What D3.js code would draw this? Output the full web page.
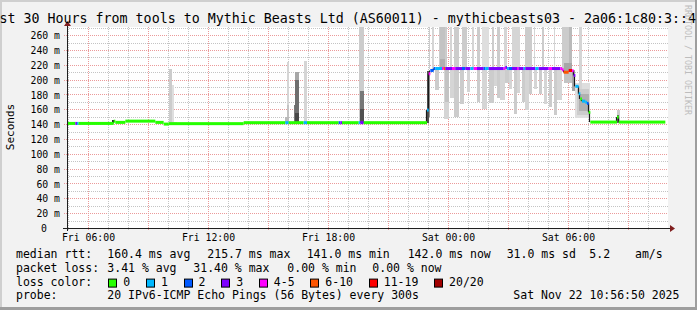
<!DOCTYPE html>
<html>
<head>
<meta charset="utf-8">
<script src="https://cdn.jsdelivr.net/npm/d3@7"></script>
<style>
  body { margin: 0; background: #f2f2f2; }
  text { font-family: "DejaVu Sans Mono", monospace; }
</style>
</head>
<body>
<svg id="chart"></svg>
<script>
// rrd samples every 5 minutes, 30 hours shown
const startTime = new Date(2025, 10, 21, 4, 57, 0);
const stepMinutes = 5;
const sampleCount = 359;

// median rtt runs: [first sample, median (ms), lost pings of 20]
const medianRuns = [
  [0, 141, 0], [5, 141, 3], [6, 141, 1], [7, 141, 0],
  [28, 144, 0], [29, 142.4, 0], [35, 144.1, 0], [53, 142.4, 0],
  [58, 140.1, 0], [61, 140.7, 0], [106, 142, 0],
  [131, 142, 1], [133, 142, 0], [142, 142, 1], [144, 142, 0],
  [163, 142, 2], [164, 142, 3], [165, 142, 0],
  [175, 142, 1], [176, 142, 3], [178, 142, 0],
  [216, 159, 1], [217, 208, 4], [218, 212.4, 2],
  [220, 215, 2], [221, 215, 1], [225, 215, 4], [226, 215, 7], [227, 215, 3],
  [231, 215, 4], [233, 215, 3], [237, 215, 2], [239, 215, 3], [242, 215, 1],
  [244, 215, 4], [246, 215, 3], [250, 215, 2], [251, 215, 1],
  [253, 215, 3], [262, 215, 4], [263, 216.5, 3], [264, 215, 1], [265, 215, 2],
  [267, 215, 3], [270, 215, 4], [271, 215, 3], [274, 215, 1],
  [275, 215, 3], [281, 215, 1], [283, 215, 3], [289, 215, 4], [291, 215, 3],
  [296, 215, 4], [297, 213.3, 4], [298, 210, 7], [301, 212.4, 12], [303, 212, 4],
  [304, 205.7, 3], [305, 191, 1], [307, 181, 1], [308, 174, 0], [309, 171, 1],
  [311, 169.5, 1], [312, 168, 2], [313, 156, 0], [314, 142.8, 0],
  [330, 149.5, 0], [331, 142.8, 0]
];

// smoke (spread of the pings): [first sample, end sample, low (ms), high (ms), pings in band]
const smoke = [
  [27, 28, 142, 145, 20],
  [61, 63, 141, 214, 3], [63, 64, 141, 193, 1], [61, 66, 140, 143, 2],
  [131, 133, 141, 150, 5], [132, 133, 141, 224, 2], [132, 133, 141, 166, 4],
  [136, 137, 141, 166, 12], [137, 139, 141, 211, 7], [137, 139, 141, 200, 13], [137, 139, 141, 155, 17],
  [142, 144, 141, 225, 2],
  [175, 178, 141, 290, 3], [176, 178, 141, 185, 12], [176, 178, 141, 160, 16],
  [216, 217, 142, 212, 16], [217, 218, 150, 212, 9],
  [217, 218, 215, 290, 3], [219, 220, 215, 290, 2], [223, 228, 215, 290, 3], [224, 227, 215, 290, 4],
  [224, 227, 215, 228, 6], [230, 231, 215, 290, 2], [232, 235, 215, 290, 3], [237, 240, 215, 290, 3],
  [243, 244, 215, 290, 2], [246, 248, 215, 290, 3], [249, 253, 215, 290, 1], [255, 256, 215, 290, 3],
  [258, 260, 215, 290, 3], [262, 264, 215, 290, 2], [267, 272, 215, 290, 2], [275, 279, 215, 290, 3],
  [280, 281, 215, 290, 2], [285, 286, 215, 290, 3], [292, 293, 215, 290, 2], [297, 303, 215, 290, 3],
  [301, 303, 215, 290, 5], [298, 303, 211, 222, 7], [307, 309, 185, 290, 2],
  [221, 223, 186, 215, 3], [226, 229, 147, 215, 2], [227, 229, 170, 215, 4], [230, 232, 175, 215, 2],
  [232, 235, 150, 215, 3], [236, 238, 167, 215, 3], [240, 242, 183, 215, 2], [246, 248, 170, 215, 3],
  [249, 252, 160, 215, 2], [253, 256, 168, 215, 3], [256, 258, 192, 215, 2], [258, 260, 175, 215, 3],
  [260, 263, 172, 215, 2], [263, 265, 195, 215, 3], [265, 267, 188, 215, 2], [268, 270, 154, 215, 3],
  [270, 272, 182, 215, 2], [273, 275, 170, 215, 3], [275, 277, 159, 215, 2], [277, 279, 180, 215, 3],
  [280, 282, 188, 215, 2], [283, 285, 181, 215, 3], [286, 288, 167, 215, 2], [289, 291, 163, 215, 3],
  [292, 294, 152, 215, 3], [294, 297, 172, 215, 2], [298, 304, 195, 213, 4],
  [303, 305, 185, 213, 7], [305, 314, 148, 195, 1], [306, 313, 152, 188, 3], [307, 313, 158, 180, 6],
  [330, 332, 142, 159, 3], [330, 331, 142, 153, 14]
];

const lossLabels = ['0', '1', '2', '3', '4-5', '6-10', '11-19', '20/20'];
const lossThresholds = [1, 2, 3, 4, 6, 11, 20];
const lossColors = ['#26ff00', '#00b8ff', '#0059ff', '#7e00ff', '#ff00ff', '#ff5500', '#ff0000', '#a10000'];

const titleText = 'Last 30 Hours from tools to Mythic Beasts Ltd (AS60011) - mythicbeasts03 - 2a06:1c80:3::4';
const rttStats = ['160.4 ms avg', '215.7 ms max', '141.0 ms min', '142.0 ms now', '31.0 ms sd', '5.2', 'am/s'];
const lossStats = ['3.41 % avg', '31.40 % max', '0.00 % min', '0.00 % now'];
const probeText = '20 IPv6-ICMP Echo Pings (56 Bytes) every 300s';
const stampText = 'Sat Nov 22 10:56:50 2025';
const yTicks = d3.range(0, 261, 20);

const W = 697, H = 310;
const plot = { left: 67, right: 668, top: 27, bottom: 228 };

const svg = d3.select('#chart').attr('width', W).attr('height', H);

// frame
svg.append('rect').attr('width', W).attr('height', H).attr('fill', '#f2f2f2');
svg.append('rect').attr('width', W).attr('height', 2).attr('fill', '#cfcfcf');
svg.append('rect').attr('width', 2).attr('height', H).attr('fill', '#cfcfcf');
svg.append('rect').attr('y', H - 3).attr('width', W).attr('height', 3).attr('fill', '#9e9e9e');
svg.append('rect').attr('x', W - 2).attr('width', 2).attr('height', H).attr('fill', '#9e9e9e');

svg.append('rect')
    .attr('x', plot.left).attr('y', plot.top)
    .attr('width', plot.right - plot.left).attr('height', plot.bottom - plot.top)
    .attr('fill', '#ffffff');

const x = d3.scaleTime()
    .domain([startTime, d3.timeHour.offset(startTime, 30)])
    .range([67, 667]);
const y = d3.scaleLinear().domain([0, 271]).range([228, 27]);
const tAt = i => d3.timeMinute.offset(startTime, i * stepMinutes);
const lossClass = d3.scaleThreshold().domain(lossThresholds).range(d3.range(8));
const grey = d3.scaleLinear().domain([1, 10, 20]).range(['#dedede', '#8c8c8c', '#2a2a2a']);

// grid
const grid = svg.append('g').attr('stroke-dasharray', '1,1').attr('stroke-width', 1);
d3.range(10, 271, 10).forEach(v => {
  const yy = Math.round(y(v)) + 0.5;
  grid.append('line')
      .attr('x1', v % 20 === 0 ? plot.left - 3 : plot.left).attr('x2', plot.right)
      .attr('y1', yy).attr('y2', yy)
      .attr('stroke', v % 20 === 0 ? '#eb9a9a' : '#c4c4c4');
});
d3.timeHour.every(1).range(startTime, d3.timeHour.offset(startTime, 30)).forEach(t => {
  const xx = Math.round(x(t)) + 0.5;
  const major = t.getHours() % 3 === 0;
  grid.append('line')
      .attr('x1', xx).attr('x2', xx)
      .attr('y1', plot.top).attr('y2', plot.bottom + (major ? 3 : 2))
      .attr('stroke', major ? '#eb9a9a' : '#c4c4c4');
});

// smoke
svg.append('clipPath').attr('id', 'clip').append('rect')
    .attr('x', plot.left).attr('y', plot.top)
    .attr('width', plot.right - plot.left).attr('height', plot.bottom - plot.top);
const chart = svg.append('g').attr('clip-path', 'url(#clip)');

chart.append('g').attr('shape-rendering', 'crispEdges')
    .selectAll('rect')
    .data(smoke.slice().sort((a, b) => a[4] - b[4]))
    .join('rect')
    .attr('x', d => x(tAt(d[0])))
    .attr('width', d => x(tAt(d[1])) - x(tAt(d[0])))
    .attr('y', d => y(d[3]))
    .attr('height', d => y(d[2]) - y(d[3]))
    .attr('fill', d => grey(d[4]));

// steps between very different medians show as a dark stroke
const steps = [];
medianRuns.forEach((d, k) => {
  if (k > 0 && Math.abs(d[1] - medianRuns[k - 1][1]) > 2.5) steps.push([d[0], medianRuns[k - 1][1], d[1]]);
});
chart.append('g')
    .selectAll('line')
    .data(steps)
    .join('line')
    .attr('x1', d => Math.round(x(tAt(d[0]))) - 0.5)
    .attr('x2', d => Math.round(x(tAt(d[0]))) - 0.5)
    .attr('y1', d => y(d[1]))
    .attr('y2', d => y(d[2]))
    .attr('stroke', '#1a1a1a').attr('stroke-width', 1.2);

// median coloured by loss
chart.append('g')
    .selectAll('rect')
    .data(medianRuns)
    .join('rect')
    .attr('x', d => x(tAt(d[0])))
    .attr('width', (d, k) => x(tAt(k + 1 < medianRuns.length ? medianRuns[k + 1][0] : sampleCount)) - x(tAt(d[0])))
    .attr('y', d => y(d[1]) - 1.5)
    .attr('height', 3)
    .attr('fill', d => lossColors[lossClass(d[2])]);

// axes
const yAxis = svg.append('g')
    .attr('transform', `translate(${plot.left},0)`)
    .call(d3.axisLeft(y).tickValues(yTicks).tickSize(0).tickPadding(7)
        .tickFormat(d => d === 0 ? '0' : d + ' m'));
yAxis.select('.domain').remove();
yAxis.selectAll('text')
    .attr('font-family', '"DejaVu Sans Mono", monospace')
    .attr('font-size', '9.8px').attr('fill', '#000')
    .attr('dy', '0.36em')
    .attr('x', d => d === 0 ? -20 : -7);

const xAxis = svg.append('g')
    .attr('transform', `translate(0,${plot.bottom})`)
    .call(d3.axisBottom(x).ticks(d3.timeHour.every(6)).tickSize(0).tickPadding(6)
        .tickFormat(d3.timeFormat('%a %H:%M')));
xAxis.select('.domain').remove();
xAxis.selectAll('text')
    .attr('font-family', '"DejaVu Sans Mono", monospace')
    .attr('font-size', '9.8px').attr('fill', '#000')
    .attr('dy', '0.72em');

svg.append('line').attr('x1', 63).attr('x2', 671).attr('y1', 228.5).attr('y2', 228.5)
    .attr('stroke', '#1f1f1f');
svg.append('line').attr('x1', 67.5).attr('x2', 67.5).attr('y1', 231).attr('y2', 24)
    .attr('stroke', '#1f1f1f');
svg.append('path').attr('d', 'M670,225L675,228.5L670,232Z').attr('fill', '#801f1f');
svg.append('path').attr('d', 'M64,26L67.5,21L71,26Z').attr('fill', '#801f1f');

// title, axis label, watermark
svg.append('text').attr('x', 696).attr('y', 23).attr('text-anchor', 'end')
    .attr('font-size', '13.3px').text(titleText);
svg.append('text').attr('transform', 'translate(14,127) rotate(-90)')
    .attr('text-anchor', 'middle').attr('font-size', '11px').text('Seconds');
svg.append('text').attr('transform', 'translate(685,5) rotate(90)')
    .attr('font-size', '8.3px').attr('fill', '#bdbdbd').text('RRDTOOL / TOBI OETIKER');

// legend
const rowY = [258, 271.8, 285.6, 299.4];
const legend = svg.append('g').attr('font-size', '11.5px');
const rttX = [107.3, 207.3, 306.7, 407.7, 506.7, 589.3, 635];
const lossX = [107.3, 193.3, 287.3, 372.3];

legend.append('text').attr('x', 16).attr('y', rowY[0]).text('median rtt:');
rttStats.forEach((s, k) => legend.append('text').attr('x', rttX[k]).attr('y', rowY[0]).text(s));
legend.append('text').attr('x', 16).attr('y', rowY[1]).text('packet loss:');
lossStats.forEach((s, k) => legend.append('text').attr('x', lossX[k]).attr('y', rowY[1]).text(s));
legend.append('text').attr('x', 16).attr('y', rowY[2]).text('loss color:');

let cursor = 108.3;
lossLabels.forEach((lab, k) => {
  legend.append('rect')
      .attr('x', Math.round(cursor) + 0.5).attr('y', rowY[2] - 6.5)
      .attr('width', 8).attr('height', 8)
      .attr('fill', lossColors[k]).attr('stroke', '#000');
  const t = legend.append('text').attr('x', cursor + 15).attr('y', rowY[2]).text(lab);
  cursor += 15 + t.node().getComputedTextLength() + 15.7;
});

legend.append('text').attr('x', 16).attr('y', rowY[3]).text('probe:');
legend.append('text').attr('x', 107.3).attr('y', rowY[3]).text(probeText);
legend.append('text').attr('x', 513.3).attr('y', rowY[3]).text(stampText);
</script>
</body>
</html>
